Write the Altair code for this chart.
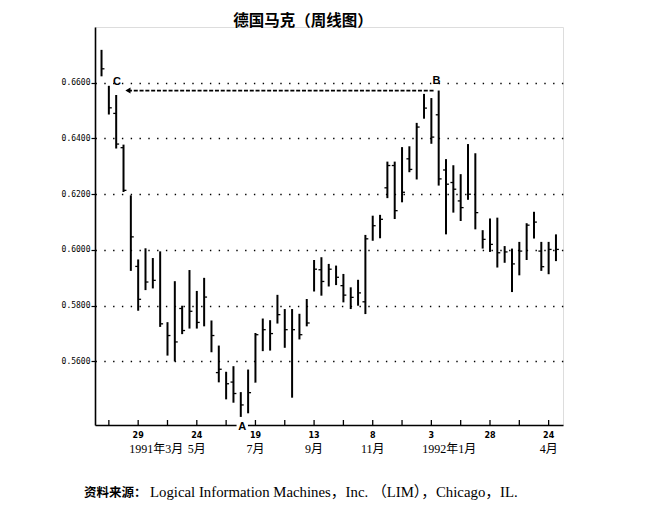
import altair as alt
import pandas as pd

# ---- weekly bars (week index 0 = 22 Feb 1991) ----
high = [0.6718, 0.6589, 0.6556, 0.6378, 0.6196, 0.5966, 0.6006, 0.5971, 0.5995, 0.5741,
        0.5888, 0.5800, 0.5928, 0.5853, 0.5900, 0.5747, 0.5657, 0.5563, 0.5583, 0.5490,
        0.5571, 0.5702, 0.5754, 0.5748, 0.5839, 0.5788, 0.5788, 0.5771, 0.5824, 0.5964,
        0.5974, 0.5950, 0.5944, 0.5914, 0.5866, 0.5893, 0.6054, 0.6123, 0.6126, 0.6317,
        0.6317, 0.6369, 0.6372, 0.6456, 0.6560, 0.6545, 0.6572, 0.6326, 0.6304, 0.6272,
        0.6380, 0.6347, 0.6071, 0.6113, 0.6116, 0.6014, 0.6005, 0.6029, 0.6096, 0.6137,
        0.6029, 0.6029, 0.6056]
low = [0.6623, 0.6486, 0.6364, 0.6208, 0.5925, 0.5782, 0.5856, 0.5862, 0.5724, 0.5621,
       0.5600, 0.5698, 0.5718, 0.5718, 0.5726, 0.5633, 0.5525, 0.5464, 0.5452, 0.5401,
       0.5414, 0.5524, 0.5637, 0.5639, 0.5736, 0.5649, 0.5470, 0.5679, 0.5726, 0.5851,
       0.5836, 0.5869, 0.5874, 0.5812, 0.5788, 0.5800, 0.5770, 0.6033, 0.6042, 0.6186,
       0.6111, 0.6171, 0.6279, 0.6253, 0.6471, 0.6381, 0.6231, 0.6056, 0.6134, 0.6104,
       0.6180, 0.6074, 0.6005, 0.5993, 0.5937, 0.5954, 0.5849, 0.5909, 0.5964, 0.6041,
       0.5925, 0.5913, 0.5960]
close = [0.6650, 0.6510, 0.6380, 0.6214, 0.6047, 0.5823, 0.5885, 0.5891, 0.5735, 0.5693,
         0.5670, 0.5711, 0.5780, 0.5740, 0.5831, 0.5693, 0.5572, 0.5520, 0.5485, 0.5444,
         0.5488, 0.5696, 0.5714, 0.5700, 0.5768, 0.5714, 0.5714, 0.5696, 0.5738, 0.5931,
         0.5887, 0.5931, 0.5902, 0.5838, 0.5830, 0.5846, 0.6040, 0.6087, 0.6110, 0.6303,
         0.6141, 0.6207, 0.6289, 0.6441, 0.6509, 0.6405, 0.6255, 0.6236, 0.6218, 0.6152,
         0.6200, 0.6134, 0.6038, 0.6020, 0.5990, 0.5993, 0.5950, 0.5996, 0.6089, 0.6100,
         0.5940, 0.6002, 0.6002]
open_ = [None, None, 0.6490, 0.6367, None, 0.5941, None, None, None, None,
         None, 0.5790, None, None, None, None, 0.5560, None, 0.5526, None,
         None, None, None, None, None, None, None, None, None, None,
         0.5929, None, None, 0.5872, None, None, 0.5814, None, None, 0.6223,
         0.6303, None, 0.6327, None, None, None, 0.6485, 0.6287, 0.6242, 0.6176,
         None, None, None, None, None, None, None, None, None, None,
         0.5996, None, None]
weeks = list(range(len(high)))

# ---- axis ticks / labels ----
tick_weeks = [1, 5, 9, 13, 17, 21, 25, 29, 33, 37, 41, 45, 49, 53, 57, 61]
day_labels = ["", "29", "", "24", "", "19", "", "13", "", "8", "", "3", "", "28", "", "24"]
month_weeks = [13, 21, 29, 37, 61]
month_labels = ["5月", "7月", "9月", "11月", "4月"]
year_weeks = [5, 45]
year_labels = ["1991年3月", "1992年1月"]
y_ticks = [0.56, 0.58, 0.60, 0.62, 0.64, 0.66]

# ---- annotations ----
title_text = "德国马克（周线图）"
source_head = "资料来源："
source_body = "Logical Information Machines，Inc. （LIM），Chicago，IL."
letter_text = ["C", "B"]
letter_week = [2.1, 45.7]
letter_val = [0.6601, 0.6608]
a_week = [19.2]
a_val = [0.5372]
arrow_from = [45.3]
arrow_to = [3.6]
arrow_val = [0.6572]

W, H = 468, 398
xs = alt.Scale(domain=[-0.89, 62.96], nice=False, zero=False)
ys = alt.Scale(domain=[0.5372, 0.68], nice=False, zero=False)

df = pd.DataFrame({"w": weeks, "high": high, "low": low, "close": close, "open": open_})

xaxis = alt.Axis(values=tick_weeks, labels=False, ticks=False, grid=False,
                 domainColor="black", domainWidth=1.6, title=None)
yaxis = alt.Axis(values=y_ticks, format=".4f", grid=True, gridDash=[1.4, 7.4],
                 gridColor="black", gridWidth=1.3, gridOpacity=1, tickSize=4,
                 tickColor="black", tickWidth=1.2, domainColor="black", domainWidth=1.6,
                 labelFont="DejaVu Sans Mono", labelFontSize=8, labelColor="black",
                 labelPadding=1, title=None)

bars = alt.Chart(df).mark_rule(color="black", strokeWidth=2).encode(
    x=alt.X("w:Q", scale=xs, axis=xaxis),
    y=alt.Y("low:Q", scale=ys, axis=yaxis),
    y2="high:Q",
)
close_t = alt.Chart(df).transform_calculate(xe="datum.w + 0.4").mark_rule(
    color="black", strokeWidth=1.3).encode(
    x=alt.X("w:Q", scale=xs), x2="xe:Q", y=alt.Y("close:Q", scale=ys))
open_t = alt.Chart(df).transform_filter("isValid(datum.open)").transform_calculate(
    xb="datum.w - 0.4").mark_rule(color="black", strokeWidth=1.3).encode(
    x=alt.X("xb:Q", scale=xs), x2="w:Q", y=alt.Y("open:Q", scale=ys))

tick_df = pd.DataFrame({"w": tick_weeks, "t": day_labels})
xticks = alt.Chart(tick_df).mark_rule(color="black", strokeWidth=1.3).encode(
    x=alt.X("w:Q", scale=xs), y=alt.value(H), y2=alt.value(H - 5))
days = alt.Chart(tick_df).mark_text(
    font="DejaVu Sans", fontWeight="bold", fontSize=8, color="black",
    align="center", baseline="middle").encode(
    x=alt.X("w:Q", scale=xs), y=alt.value(H + 11), text="t:N")

arrow_df = pd.DataFrame({"a": arrow_from, "b": arrow_to, "v": arrow_val})
arrow_line = alt.Chart(arrow_df).mark_rule(
    color="black", strokeWidth=1.7, strokeDash=[4, 1.8]).encode(
    x=alt.X("a:Q", scale=xs), x2="b:Q", y=alt.Y("v:Q", scale=ys))
arrow_head = alt.Chart(arrow_df).mark_point(
    shape="triangle-left", filled=True, color="black", size=35, opacity=1).encode(
    x=alt.X("b:Q", scale=xs), y=alt.Y("v:Q", scale=ys))

letters = alt.Chart(pd.DataFrame({"t": letter_text, "w": letter_week, "v": letter_val})).mark_text(
    font="Liberation Sans", fontWeight="bold", fontSize=11, color="black",
    align="center", baseline="middle").encode(
    x=alt.X("w:Q", scale=xs), y=alt.Y("v:Q", scale=ys), text="t:N")

a_df = pd.DataFrame({"t": ["A"], "w": a_week, "v": a_val})
a_bg = alt.Chart(a_df).mark_square(color="white", size=130, opacity=1).encode(
    x=alt.X("w:Q", scale=xs), y=alt.Y("v:Q", scale=ys))
a_txt = alt.Chart(a_df).mark_text(
    font="Liberation Sans", fontWeight="bold", fontSize=11, color="black",
    align="center", baseline="middle", dy=2).encode(
    x=alt.X("w:Q", scale=xs), y=alt.Y("v:Q", scale=ys), text="t:N")

months = alt.Chart(pd.DataFrame({"w": month_weeks, "t": month_labels})).mark_text(
    font="Liberation Serif, Noto Sans CJK SC", fontSize=12, color="black",
    align="center", baseline="middle").encode(
    x=alt.X("w:Q", scale=xs), y=alt.value(H + 24), text="t:N")
years = alt.Chart(pd.DataFrame({"w": year_weeks, "t": year_labels})).mark_text(
    font="Liberation Serif, Noto Sans CJK SC", fontSize=12, color="black",
    align="left", baseline="middle", dx=-9).encode(
    x=alt.X("w:Q", scale=xs), y=alt.value(H + 24), text="t:N")

title = alt.Chart(pd.DataFrame({"t": [title_text]})).mark_text(
    font="Noto Sans CJK SC", fontWeight="bold", fontSize=15.5, color="black",
    align="center", baseline="middle").encode(
    x=alt.value(303 - 95), y=alt.value(20.5 - 27), text="t:N")
src1 = alt.Chart(pd.DataFrame({"t": [source_head]})).mark_text(
    font="Noto Sans CJK SC", fontWeight="bold", fontSize=12.5, color="black",
    align="left", baseline="middle").encode(
    x=alt.value(84 - 95), y=alt.value(493 - 27), text="t:N")
src2 = alt.Chart(pd.DataFrame({"t": [source_body]})).mark_text(
    font="Liberation Serif, Noto Sans CJK SC", fontSize=14.8, color="black",
    align="left", baseline="middle").encode(
    x=alt.value(150 - 95), y=alt.value(493 - 27), text="t:N")

chart = alt.layer(
    bars, close_t, open_t, xticks, days, arrow_line, arrow_head, letters,
    a_bg, a_txt, months, years, title, src1, src2,
).properties(
    width=W, height=H,
    autosize=alt.AutoSizeParams(type="none"),
    padding={"left": 87, "top": 19, "right": 100, "bottom": 79},
).configure_view(stroke=None).configure(background="white")

chart.save("out.html", embed_options={"renderer": "svg", "actions": False})
